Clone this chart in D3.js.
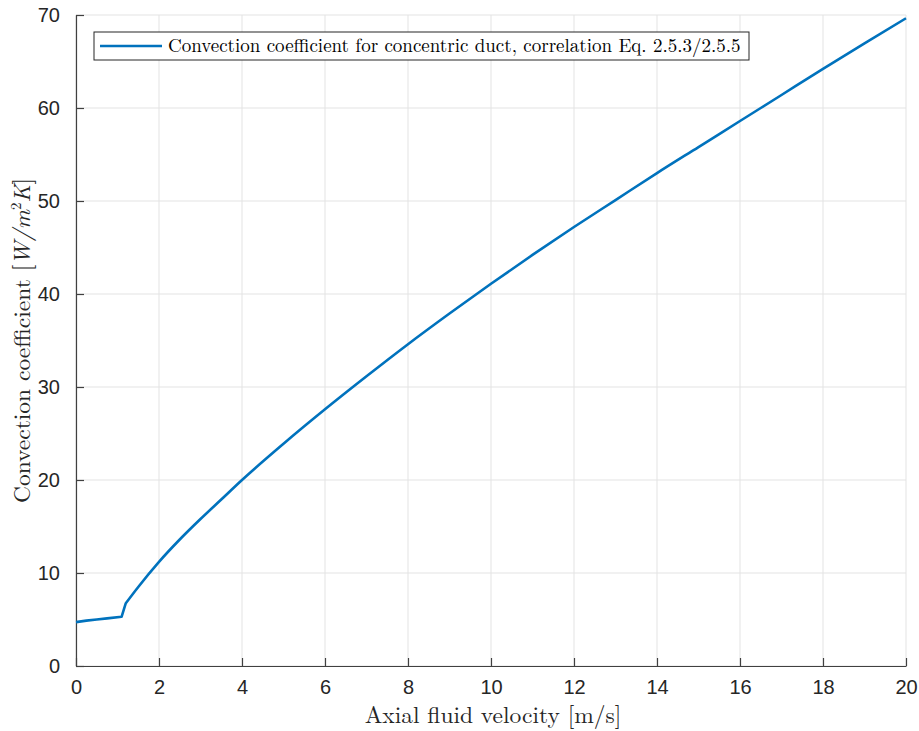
<!DOCTYPE html>
<html>
<head>
<meta charset="utf-8">
<script src="https://cdn.jsdelivr.net/npm/d3@7"></script>
<style>
  body { margin: 0; background: #fff; }
  svg { display: block; }
</style>
</head>
<body>
<svg id="chart"></svg>
<script>
// velocity [m/s] and convection coefficient [W/m^2K]
var velocity = [0, 0.25, 0.5, 0.75, 1.1, 1.2, 1.5, 2, 2.5, 3, 3.5, 4, 5, 6, 7, 8, 9, 10,
                11, 12, 13, 14, 15, 16, 17, 18, 19, 20];
var hConv = [4.72, 4.88, 5.0, 5.12, 5.3, 6.75, 8.5, 11.2, 13.6, 15.8, 17.9, 20.0, 23.9, 27.6,
             31.15, 34.6, 37.9, 41.1, 44.2, 47.2, 50.1, 53.0, 55.8, 58.6, 61.4, 64.2, 66.95, 69.65];
// index where the turbulent correlation takes over
var switchIndex = 5;
var xTicks = [0, 2, 4, 6, 8, 10, 12, 14, 16, 18, 20];
var yTicks = [0, 10, 20, 30, 40, 50, 60, 70];
var legendLabel = "Convection coefficient for concentric duct, correlation Eq. 2.5.3/2.5.5";

var width = 919, height = 731;
var margin = {top: 15, right: 13, bottom: 65, left: 76};
var pw = width - margin.left - margin.right;
var ph = height - margin.top - margin.bottom;

var svg = d3.select("#chart").attr("width", width).attr("height", height);
var g = svg.append("g").attr("transform", "translate(" + margin.left + "," + margin.top + ")");

var x = d3.scaleLinear().domain([0, 20]).range([0, pw]);
var y = d3.scaleLinear().domain([0, 70]).range([ph, 0]);

// grid
g.append("g").selectAll("line").data(xTicks).enter().append("line")
    .attr("x1", function (d) { return x(d); }).attr("x2", function (d) { return x(d); })
    .attr("y1", 0).attr("y2", ph)
    .style("stroke", "#e3e3e3").style("stroke-width", 1);
g.append("g").selectAll("line").data(yTicks).enter().append("line")
    .attr("y1", function (d) { return y(d); }).attr("y2", function (d) { return y(d); })
    .attr("x1", 0).attr("x2", pw)
    .style("stroke", "#e3e3e3").style("stroke-width", 1);

// axes (inward ticks)
var xAxis = g.append("g").attr("transform", "translate(0," + ph + ")")
    .call(d3.axisBottom(x).tickValues(xTicks).tickSizeInner(-8).tickSizeOuter(0).tickPadding(14));
var yAxis = g.append("g")
    .call(d3.axisLeft(y).tickValues(yTicks).tickSizeInner(-8).tickSizeOuter(0).tickPadding(16));

[xAxis, yAxis].forEach(function (a) {
    a.select(".domain").style("stroke", "#404040").style("stroke-width", 1.2);
    a.selectAll(".tick line").style("stroke", "#404040").style("stroke-width", 1.2);
    a.selectAll(".tick text")
        .style("font-family", "'Liberation Sans', Arial, sans-serif")
        .style("font-size", "20px")
        .style("fill", "#262626");
});

// curve: laminar part + jump straight, turbulent part smoothed
var pts = velocity.map(function (v, i) { return [v, hConv[i]]; });

var straight = d3.line()
    .x(function (d) { return x(d[0]); })
    .y(function (d) { return y(d[1]); });
var smooth = d3.line()
    .x(function (d) { return x(d[0]); })
    .y(function (d) { return y(d[1]); })
    .curve(d3.curveMonotoneX);

var pathD = straight(pts.slice(0, switchIndex + 1)) +
    smooth(pts.slice(switchIndex)).replace(/^M/, "L");

g.append("path")
    .attr("d", pathD)
    .style("fill", "none")
    .style("stroke", "#0072BD")
    .style("stroke-width", 2.6)
    .style("stroke-linejoin", "round");

// axis labels
var serif = "'Latin Modern Roman', 'CMU Serif', 'Liberation Serif', 'DejaVu Serif', serif";
svg.append("text")
    .attr("x", margin.left + pw / 2 + 2).attr("y", 723)
    .attr("text-anchor", "middle")
    .style("font-family", serif).style("font-size", "23.5px").style("fill", "#262626")
    .text("Axial fluid velocity [m/s]");

var yl = svg.append("text")
    .attr("transform", "translate(30," + (margin.top + ph / 2) + ") rotate(-90)")
    .attr("text-anchor", "middle")
    .style("font-family", serif).style("font-size", "23.5px").style("fill", "#262626");
yl.append("tspan").text("Convection coefficient [");
yl.append("tspan").style("font-style", "italic").text("W/m");
yl.append("tspan").attr("dy", -9).style("font-size", "15px").text("2");
yl.append("tspan").attr("dy", 9).style("font-style", "italic").text("K");
yl.append("tspan").text("]");

// legend
var lg = svg.append("g").attr("transform", "translate(94,32)");
lg.append("rect")
    .attr("width", 655).attr("height", 28)
    .style("fill", "#fff").style("stroke", "#262626").style("stroke-width", 1);
lg.append("line")
    .attr("x1", 6).attr("x2", 68).attr("y1", 14).attr("y2", 14)
    .style("stroke", "#0072BD").style("stroke-width", 2.6);
lg.append("text")
    .attr("x", 74).attr("y", 20)
    .style("font-family", serif).style("font-size", "19px").style("fill", "#000")
    .text(legendLabel);
</script>
</body>
</html>
